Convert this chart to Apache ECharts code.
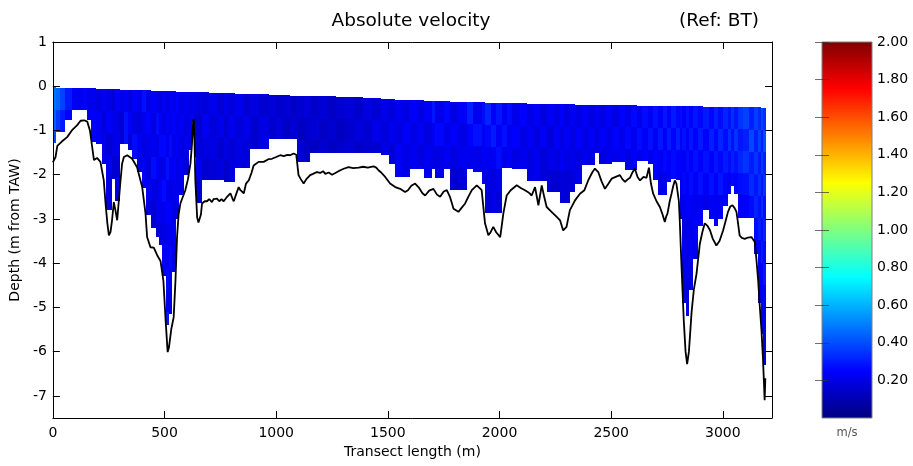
<!DOCTYPE html>
<html><head><meta charset="utf-8">
<script src="https://cdn.jsdelivr.net/npm/echarts@6/dist/echarts.min.js"></script>
<style>html,body{margin:0;padding:0;background:#fff}#c{width:913px;height:466px}</style>
</head><body><div id="c"></div>
<script>
// Ensemble column edges along the transect (m)
const colEdges = [0,12,30,55,85,110,135,155,172,195,220,236,266,280,300,320,335,355,378,398,415,438,460,475,490,505,520,535,550,565,586,609,622,634,641,668,700,735,765,790,817,850,884,925,966,1000,1030,1060,1093,1123,1153,1190,1230,1270,1310,1350,1390,1430,1470,1503,1533,1566,1600,1630,1660,1697,1712,1750,1779,1815,1854,1883,1920,1935,1960,1985,2010,2032,2055,2090,2122,2152,2182,2212,2242,2271,2290,2316,2340,2368,2398,2428,2445,2475,2505,2535,2562,2588,2614,2640,2666,2688,2710,2730,2748,2768,2790,2807,2817,2835,2850,2866,2888,2910,2940,2962,2977,3000,3022,3037,3052,3067,3090,3115,3141,3156,3171,3181,3193];
// Top of first valid bin per column (m from TAW)
const colTop = [-0.02,-0.03,-0.03,-0.04,-0.04,-0.04,-0.05,-0.05,-0.05,-0.06,
-0.06,-0.06,-0.07,-0.07,-0.08,-0.08,-0.08,-0.09,-0.09,-0.09,
-0.09,-0.10,-0.10,-0.10,-0.11,-0.11,-0.11,-0.11,-0.12,-0.12,
-0.12,-0.13,-0.13,-0.13,-0.13,-0.14,-0.15,-0.15,-0.16,-0.16,
-0.17,-0.17,-0.18,-0.18,-0.19,-0.20,-0.20,-0.21,-0.22,-0.22,
-0.22,-0.23,-0.23,-0.24,-0.24,-0.25,-0.26,-0.27,-0.28,-0.29,
-0.30,-0.31,-0.32,-0.32,-0.33,-0.33,-0.34,-0.34,-0.35,-0.35,
-0.35,-0.36,-0.36,-0.37,-0.37,-0.38,-0.38,-0.38,-0.39,-0.39,
-0.40,-0.40,-0.40,-0.40,-0.41,-0.41,-0.41,-0.41,-0.42,-0.42,
-0.42,-0.42,-0.43,-0.43,-0.43,-0.43,-0.43,-0.43,-0.44,-0.44,
-0.44,-0.44,-0.44,-0.44,-0.44,-0.44,-0.45,-0.45,-0.45,-0.45,
-0.45,-0.45,-0.45,-0.46,-0.46,-0.46,-0.46,-0.46,-0.47,-0.47,
-0.47,-0.47,-0.47,-0.48,-0.48,-0.48,-0.49,-0.49];
// Bottom of last valid bin per column
const colBottom = [-1.28,-1.03,-1.03,-0.77,-0.53,-0.53,-0.53,-0.77,-1.25,-1.3,
-1.75,-2.8,-2.1,-2.6,-1.3,-1.3,-1.45,-1.65,-1.95,-2.3,
-2.9,-3.2,-3.41,-3.6,-4.3,-5.4,-5.15,-4.2,-3.0,-2.45,
-2.0,-1.45,-0.8,-1.6,-2.65,-2.13,-2.13,-2.13,-2.16,-2.16,
-1.85,-1.85,-1.41,-1.41,-1.2,-1.2,-1.2,-1.2,-1.71,-1.71,
-1.52,-1.52,-1.52,-1.52,-1.52,-1.5,-1.5,-1.52,-1.55,-1.75,
-2.05,-2.05,-1.86,-1.86,-2.08,-1.86,-2.08,-1.86,-2.35,-2.35,
-1.86,-1.95,-2.2,-2.87,-2.87,-2.87,-1.85,-1.85,-1.86,-1.86,
-2.15,-2.15,-2.15,-2.4,-2.4,-2.65,-2.65,-2.4,-2.2,-1.77,
-1.77,-1.5,-1.75,-1.75,-1.72,-1.72,-1.9,-1.9,-1.7,-1.7,
-1.75,-2.13,-2.47,-2.47,-2.16,-2.1,-2.13,-3.0,-4.9,-5.2,
-4.6,-3.9,-3.15,-2.8,-3.0,-3.17,-3.0,-2.7,-2.43,-2.26,
-2.43,-2.98,-2.98,-2.98,-3.8,-4.9,-5.6,-6.3];
// Velocity magnitude (m/s) per 0.5 m bin, from top to bottom, per column
const velocity = [
[0.48,0.44,0.40],[0.45,0.36],[0.38,0.30],[0.30,0.25],[0.24],[0.22],[0.25],[0.21],[0.22,0.25],[0.19,0.23],
[0.23,0.18,0.21],[0.20,0.24,0.17,0.22,0.19],[0.17,0.22,0.19,0.16],[0.24,0.19,0.22,0.17,0.20],[0.21,0.17],[0.23,0.28],[0.19,0.24,0.18],[0.25,0.20,0.27],[0.21,0.18,0.23,0.20],[0.28,0.22,0.19,0.24],
[0.20,0.25,0.21,0.18,0.23,0.19],[0.24,0.19,0.22,0.27,0.20,0.17],[0.21,0.27,0.20,0.24,0.19,0.22,0.18],[0.19,0.23,0.26,0.20,0.24,0.21,0.19],[0.23,0.20,0.26,0.21,0.27,0.22,0.20,0.24],[0.20,0.24,0.21,0.28,0.22,0.25,0.21,0.24,0.27,0.22,0.30],[0.24,0.21,0.27,0.22,0.20,0.25,0.22,0.26,0.23,0.21],[0.21,0.25,0.20,0.24,0.21,0.19,0.23,0.20],[0.25,0.21,0.24,0.20,0.22,0.19],[0.20,0.24,0.19,0.23,0.20],
[0.22,0.19,0.21,0.18],[0.19,0.23,0.20],[0.21],[0.20,0.17,0.22],[0.19,0.16,0.18,0.22,0.17],[0.18,0.23,0.19,0.16],[0.22,0.18,0.20,0.17],[0.17,0.21,0.16,0.19],[0.21,0.17,0.19,0.15],[0.18,0.22,0.17,0.19],
[0.22,0.18,0.20],[0.17,0.21,0.18],[0.19,0.16],[0.16,0.20],[0.18,0.15],[0.15,0.18],[0.17,0.14],[0.14,0.17],[0.16,0.13,0.17],[0.18,0.15,0.14],
[0.15,0.17,0.13],[0.17,0.14,0.16],[0.14,0.16,0.13],[0.16,0.13,0.15],[0.18,0.15,0.17],[0.15,0.18,0.14],[0.19,0.16],[0.17,0.21,0.16],[0.21,0.18,0.20],[0.18,0.22,0.17],
[0.22,0.19,0.23],[0.19,0.24,0.20],[0.24,0.20,0.22],[0.20,0.23,0.19],[0.23,0.19,0.22],[0.29,0.23,0.20],[0.21,0.26,0.20],[0.26,0.21,0.23],[0.20,0.24,0.19,0.16],[0.24,0.20,0.22,0.18],
[0.31,0.25,0.22],[0.22,0.28,0.21],[0.27,0.22,0.24,0.19],[0.32,0.26,0.22,0.20,0.17],[0.24,0.30,0.23,0.19,0.21],[0.29,0.23,0.27,0.21,0.18],[0.23,0.28,0.21],[0.27,0.22,0.24],[0.21,0.25,0.20],[0.25,0.20,0.22],
[0.20,0.24,0.19],[0.24,0.19,0.22],[0.19,0.23,0.18],[0.23,0.18,0.21,0.17],[0.20,0.24,0.19,0.16],[0.25,0.20,0.23,0.18],[0.19,0.24,0.20,0.17],[0.23,0.19,0.21,0.18],[0.20,0.24,0.19,0.21],[0.24,0.20,0.22],
[0.19,0.23,0.20],[0.23,0.19],[0.20,0.24,0.19],[0.24,0.20,0.22],[0.20,0.25,0.21],[0.25,0.21,0.23],[0.21,0.26,0.20],[0.26,0.22,0.24],[0.22,0.27,0.21],[0.27,0.23,0.25],
[0.23,0.28,0.22],[0.28,0.23,0.25],[0.24,0.29,0.23,0.20],[0.29,0.24,0.26,0.22],[0.25,0.30,0.24],[0.30,0.25,0.27],[0.26,0.31,0.25],[0.27,0.23,0.25,0.21,0.19],[0.24,0.28,0.23,0.26,0.22,0.20,0.23,0.19,0.18],[0.28,0.24,0.27,0.23,0.25,0.21,0.19,0.22,0.18],
[0.25,0.29,0.24,0.27,0.23,0.21,0.24,0.20],[0.29,0.25,0.28,0.24,0.22,0.25,0.21],[0.26,0.30,0.25,0.28,0.23],[0.30,0.25,0.28,0.24,0.21],[0.26,0.31,0.25,0.28,0.23],[0.31,0.26,0.29,0.24,0.22],[0.27,0.32,0.26,0.29,0.24],[0.32,0.27,0.30,0.25],[0.28,0.34,0.27,0.24],[0.34,0.28,0.31,0.26],
[0.29,0.35,0.28,0.25],[0.35,0.29,0.32,0.27,0.24],[0.38,0.31,0.35,0.28,0.25],[0.31,0.39,0.30,0.33,0.27],[0.37,0.31,0.35,0.29,0.32,0.27,0.24],[0.33,0.38,0.30,0.34,0.28,0.31,0.26,0.23,0.21],[0.38,0.31,0.36,0.29,0.33,0.27,0.30,0.25,0.22,0.20],[0.34,0.40,0.31,0.35,0.28,0.32,0.26,0.29,0.24,0.21,0.19,0.17]
];
const binSize = 0.5;
// Bed (bottom track) profile
const bedDistance = [0,5,12,20,40,64,85,109,124,140,154,166,176,184,198,213,228,236,244,251,258,265,273,280,288,295,303,310,318,333,355,377,400,415,422,437,452,467,482,490,495,505,514,520,530,541,549,556,563,571,593,605,616,623,628,631,634,638,646,652,658,663,668,680,690,700,712,720,735,745,755,765,780,795,805,810,820,832,840,855,865,877,890,899,921,944,965,981,1000,1018,1034,1050,1063,1070,1078,1085,1090,1100,1110,1123,1135,1152,1165,1182,1197,1210,1220,1235,1250,1265,1287,1305,1324,1345,1369,1390,1410,1436,1448,1458,1470,1488,1510,1533,1555,1577,1590,1605,1622,1640,1655,1667,1685,1704,1720,1734,1750,1764,1778,1794,1816,1830,1846,1860,1876,1898,1910,1920,1927,1935,1950,1960,1972,1985,2003,2010,2017,2032,2050,2077,2095,2114,2130,2144,2159,2174,2189,2200,2211,2225,2241,2255,2271,2285,2300,2315,2338,2360,2380,2397,2415,2427,2442,2457,2472,2488,2502,2520,2539,2550,2562,2575,2584,2595,2606,2618,2629,2645,2658,2669,2678,2688,2703,2718,2730,2740,2746,2752,2762,2770,2778,2785,2792,2797,2803,2807,2815,2825,2833,2840,2848,2860,2870,2882,2897,2908,2919,2930,2942,2955,2971,2985,3001,3012,3023,3033,3043,3052,3061,3068,3075,3085,3098,3113,3128,3135,3143,3150,3158,3165,3173,3179,3183,3187,3189,3190];
const bedDepth = [-1.72,-1.7,-1.6,-1.35,-1.25,-1.15,-1.0,-0.88,-0.78,-0.77,-0.8,-1.0,-1.37,-1.67,-1.62,-1.71,-2.13,-2.65,-3.1,-3.37,-3.3,-3.03,-2.62,-2.8,-3.03,-3.0,-2.13,-1.75,-1.6,-1.56,-1.64,-1.83,-2.28,-2.88,-3.41,-3.64,-3.65,-3.82,-3.95,-3.95,-4.4,-5.3,-6.01,-5.9,-5.5,-5.22,-4.39,-3.41,-2.9,-2.65,-2.35,-2.1,-1.75,-1.3,-0.8,-0.75,-1.2,-2.13,-2.96,-3.08,-3.1,-2.9,-2.65,-2.6,-2.6,-2.55,-2.62,-2.55,-2.54,-2.6,-2.55,-2.6,-2.5,-2.42,-2.55,-2.6,-2.45,-2.28,-2.35,-2.42,-2.2,-2.13,-1.95,-1.79,-1.71,-1.71,-1.65,-1.64,-1.6,-1.56,-1.58,-1.55,-1.56,-1.53,-1.52,-1.52,-1.55,-2.01,-2.1,-2.2,-2.1,-2.01,-1.98,-1.94,-1.96,-1.92,-1.98,-1.95,-2.0,-1.96,-1.9,-1.86,-1.83,-1.85,-1.84,-1.82,-1.84,-1.81,-1.84,-1.9,-1.95,-2.05,-2.2,-2.28,-2.32,-2.39,-2.35,-2.25,-2.2,-2.3,-2.42,-2.47,-2.36,-2.32,-2.45,-2.5,-2.38,-2.35,-2.5,-2.77,-2.84,-2.75,-2.65,-2.5,-2.35,-2.24,-2.3,-2.35,-2.7,-3.1,-3.37,-3.3,-3.18,-3.3,-3.41,-3.15,-2.88,-2.47,-2.35,-2.24,-2.3,-2.35,-2.4,-2.47,-2.28,-2.69,-2.24,-2.5,-2.73,-2.8,-2.88,-2.95,-3.03,-3.26,-3.18,-2.8,-2.58,-2.43,-2.35,-2.13,-1.95,-1.86,-1.94,-2.15,-2.32,-2.2,-2.09,-2.05,-2.01,-2.1,-2.16,-2.1,-2.07,-1.95,-1.86,-2.05,-2.13,-2.05,-2.07,-1.84,-2.2,-2.43,-2.6,-2.73,-2.9,-3.07,-2.95,-2.88,-2.6,-2.43,-2.25,-2.13,-2.2,-2.2,-2.6,-3.03,-4.09,-5.3,-6.0,-6.28,-6.0,-5.1,-4.6,-4.24,-3.56,-3.3,-3.1,-3.15,-3.25,-3.45,-3.6,-3.5,-3.26,-3.05,-2.84,-2.72,-2.69,-2.75,-2.84,-3.1,-3.37,-3.43,-3.45,-3.42,-3.41,-3.45,-3.52,-3.9,-4.39,-4.95,-5.52,-6.1,-6.58,-7.1,-6.8,-6.6];
const xTicks = [0,500,1000,1500,2000,2500,3000];
const yTicks = [-7,-6,-5,-4,-3,-2,-1,0,1];
const cbTicks = [0.2,0.4,0.6,0.8,1.0,1.2,1.4,1.6,1.8,2.0];
const jet = ['#00007f','#0000ff','#007fff','#00ffff','#7fff7f','#ffff00','#ff7f00','#ff0000','#7f0000'];

const FONT = 'DejaVu Sans';
const nCol = Math.min(colTop.length, colBottom.length, velocity.length, colEdges.length - 1);
const cells = [];
for (let j = 0; j < nCol; j++) {
  const v = velocity[j];
  for (let k = 0; k < v.length; k++) {
    const yt = colTop[j] - binSize * k;
    const yb = (k === v.length - 1) ? colBottom[j] : colTop[j] - binSize * (k + 1);
    cells.push([colEdges[j], colEdges[j + 1], yt, yb, v[k]]);
  }
}
const bed = bedDistance.map((d, i) => [d, bedDepth[i]]);

const chart = echarts.init(document.getElementById('c'), null, {renderer: 'canvas'});
const axisTxt = {fontFamily: FONT, fontSize: 14, color: '#000'};
const lineBlack = {lineStyle: {color: '#000', width: 1}};
chart.setOption({
  animation: false,
  backgroundColor: '#fff',
  grid: [
    {left: 52, top: 42, width: 720, height: 376},
    {left: 822, top: 42, width: 50, height: 376}
  ],
  visualMap: {
    show: false, type: 'continuous', seriesIndex: 0, dimension: 4,
    min: 0, max: 2, inRange: {color: jet}
  },
  xAxis: [
    {gridIndex: 0, type: 'value', min: 0, max: 3220, position: 'bottom', z: 10,
     axisLine: {onZero: false, ...lineBlack},
     axisTick: {inside: true, length: 7, customValues: xTicks, ...lineBlack},
     axisLabel: {customValues: xTicks, margin: 8, formatter: v => String(v), ...axisTxt},
     splitLine: {show: false},
     name: 'Transect length (m)', nameLocation: 'middle', nameGap: 27,
     nameTextStyle: {fontFamily: FONT, fontSize: 14, color: '#000'}},
    {gridIndex: 0, type: 'value', min: 0, max: 3220, position: 'top', z: 10,
     axisLine: {onZero: false, ...lineBlack},
     axisTick: {inside: true, length: 7, customValues: xTicks, ...lineBlack},
     axisLabel: {show: false}, splitLine: {show: false}},
    {gridIndex: 1, type: 'value', min: 0, max: 1, show: false}
  ],
  yAxis: [
    {gridIndex: 0, type: 'value', min: -7.5, max: 1, position: 'left', z: 10,
     axisLine: {show: true, onZero: false, ...lineBlack},
     axisTick: {show: true, inside: true, length: 7, customValues: yTicks, ...lineBlack},
     axisLabel: {customValues: yTicks, margin: 6, formatter: v => String(v), ...axisTxt},
     splitLine: {show: false},
     name: 'Depth (m from TAW)', nameLocation: 'middle', nameGap: 26,
     nameTextStyle: {fontFamily: FONT, fontSize: 14, color: '#000'}},
    {gridIndex: 0, type: 'value', min: -7.5, max: 1, position: 'right', z: 10,
     axisLine: {show: true, onZero: false, ...lineBlack},
     axisTick: {show: true, inside: true, length: 7, customValues: yTicks, ...lineBlack},
     axisLabel: {show: false}, splitLine: {show: false}},
    {gridIndex: 1, type: 'value', min: 0, max: 2, position: 'right', z: 10,
     axisLine: {show: false},
     axisTick: {show: true, inside: true, length: 7, customValues: cbTicks, lineStyle: {color: '#333', opacity: 0.7}},
     axisLabel: {customValues: cbTicks, margin: 5, formatter: v => Number(v).toFixed(2), ...axisTxt},
     splitLine: {show: false}},
    {gridIndex: 1, type: 'value', min: 0, max: 2, position: 'left', z: 10,
     axisLine: {show: false},
     axisTick: {show: true, inside: true, length: 7, customValues: cbTicks, lineStyle: {color: '#333', opacity: 0.7}},
     axisLabel: {show: false}, splitLine: {show: false}}
  ],
  series: [
    {type: 'custom', name: 'velocity', xAxisIndex: 0, yAxisIndex: 0, clip: true, z: 2,
     data: cells, dimensions: ['x0', 'x1', 'yTop', 'yBot', 'v'],
     encode: {x: [0, 1], y: [2, 3]},
     renderItem: function (params, api) {
       const a = api.coord([api.value(0), api.value(2)]);
       const b = api.coord([api.value(1), api.value(3)]);
       const x0 = Math.round(a[0]), x1 = Math.round(b[0]);
       const y0 = Math.round(a[1]), y1 = Math.round(b[1]);
       return {type: 'rect', shape: {x: x0, y: y0, width: Math.max(1, x1 - x0), height: Math.max(1, y1 - y0)},
               style: {fill: api.visual('color')}};
     }},
    {type: 'line', name: 'bed', xAxisIndex: 0, yAxisIndex: 0, data: bed, showSymbol: false, symbol: 'none',
     lineStyle: {color: '#000', width: 1.8}, z: 4, clip: true},
    {type: 'custom', name: 'colorbar', xAxisIndex: 2, yAxisIndex: 2, z: 2,
     data: [[0, 1, 0, 2]],
     renderItem: function (params, api) {
       const a = api.coord([api.value(0), api.value(3)]);
       const b = api.coord([api.value(1), api.value(2)]);
       const stops = jet.map((c, i) => ({offset: i / (jet.length - 1), color: c}));
       return {type: 'rect', shape: {x: a[0], y: a[1], width: b[0] - a[0], height: b[1] - a[1]},
               style: {fill: new echarts.graphic.LinearGradient(0, 1, 0, 0, stops), stroke: '#808080', lineWidth: 1}};
     }}
  ],
  graphic: [
    {type: 'text', x: 411, y: 21, style: {text: 'Absolute velocity', font: '18.5px "DejaVu Sans"', fill: '#000', align: 'center', verticalAlign: 'middle'}},
    {type: 'text', x: 719, y: 21, style: {text: '(Ref: BT)', font: '18.5px "DejaVu Sans"', fill: '#000', align: 'center', verticalAlign: 'middle'}},
    {type: 'text', x: 847, y: 433, style: {text: 'm/s', font: '11.5px "DejaVu Sans"', fill: '#555', align: 'center', verticalAlign: 'middle'}}
  ]
});
</script>
</body></html>
